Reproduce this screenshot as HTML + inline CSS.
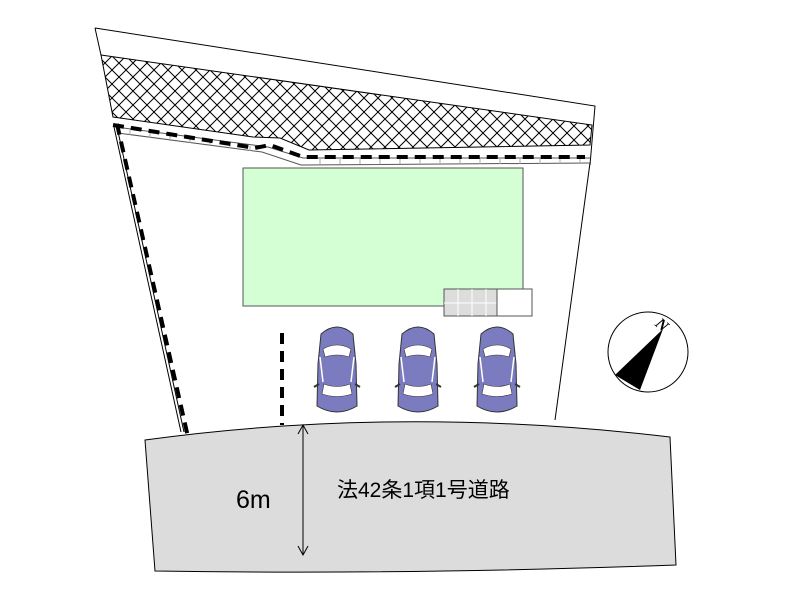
<!DOCTYPE html>
<html><head><meta charset="utf-8"><style>body{margin:0;background:#fff}svg{display:block}</style></head><body>
<svg width="800" height="600" viewBox="0 0 800 600" xmlns="http://www.w3.org/2000/svg">
<defs>
<pattern id="h" width="14" height="14" patternUnits="userSpaceOnUse">
<path d="M0 0L14 14M14 0L0 14" stroke="#000" stroke-width="1"/>
</pattern>
<g id="car">
<path d="M6 10 Q22 -4 38 10 L41 40 L42 82 Q22 94 2 82 L3 40 Z" fill="#7b7bbf" stroke="#333" stroke-width="1"/>
<path d="M8 25 Q22 17 36 25 L34 33 Q22 29 10 33Z" fill="#fff" stroke="#333" stroke-width=".6"/>
<path d="M9 60 Q22 65 35 60 L37 70 Q22 75 7 70Z" fill="#fff" stroke="#333" stroke-width=".6"/>
<path d="M5 33 L8 58 M39 33 L36 58" stroke="#fff" stroke-width="1.5"/>
<path d="M-1 63 L4 60 M45 63 L40 60" stroke="#333" stroke-width="2"/>
</g>
</defs>
<path d="M95 28 L595 106 L590 165" fill="none" stroke="#000"/>
<path d="M95 28 L101 55" fill="none" stroke="#000"/>
<path d="M590 163 L555 420" fill="none" stroke="#000"/>
<path d="M101 55 L592 125 L590 145 L309 150 L280 138 L253 137 L113 117 Z" fill="url(#h)" stroke="#000"/>
<path d="M114 127 L181 432 M117 127 L184 432" fill="none" stroke="#000"/>
<path d="M118 133 L262 152 L301 165 L590 163 M116 127 L268 147 L303 158 L590 158" fill="none" stroke="#555"/>
<path d="M130 130V135M150 133V138M170 136V141M190 138V143M210 141V146M230 143V148M250 146V151M320 159V164M340 159V164M360 159V164M380 159V164M400 159V164M420 159V164M440 159V164M460 159V164M480 159V164M500 159V164M520 159V164M540 159V164M560 159V164M580 159V164" stroke="#aaa"/>
<path d="M113 125 L255 148 L270 145 L303 157 L585 157" fill="none" stroke="#000" stroke-width="4" stroke-dasharray="11,7"/>
<path d="M117 124 L188 437" fill="none" stroke="#000" stroke-width="4" stroke-dasharray="11,7"/>
<rect x="243" y="168" width="280" height="138" fill="#d4ffd4" stroke="#555"/>
<rect x="444" y="289" width="53" height="27" fill="#ddd" stroke="#555"/>
<path d="M458 289V316M472 289V316M486 289V316M444 303H497" stroke="#fff"/>
<rect x="497" y="289" width="35" height="27" fill="#fff" stroke="#555"/>
<path d="M282 333 L282 425" stroke="#000" stroke-width="4" stroke-dasharray="11,7"/>
<use href="#car" x="315" y="324"/>
<use href="#car" x="396" y="324"/>
<use href="#car" x="475" y="324"/>
<circle cx="648" cy="352" r="40" fill="#fff" stroke="#000"/>
<path d="M663 329 L615 375 L640 390 Z" fill="#000"/>
<text x="656" y="330" font-family="Liberation Serif,serif" font-style="italic" font-weight="bold" font-size="16" transform="rotate(40 662 325)">N</text>
<path d="M145 440 Q400 405 670 437 L676 565 Q400 575 155 571 Z" fill="#dcdcdc" stroke="#000"/>
<path d="M303 425 V555 M298 434 L303 425 L308 434 M298 546 L303 555 L308 546" fill="none" stroke="#000"/>
<text x="236" y="508" font-family="Liberation Sans,sans-serif" font-size="25">6m</text>
<text x="337" y="497" font-family="Liberation Sans,'Noto Sans CJK JP',sans-serif" font-size="21">法42条1項1号道路</text>
</svg>
</body></html>
